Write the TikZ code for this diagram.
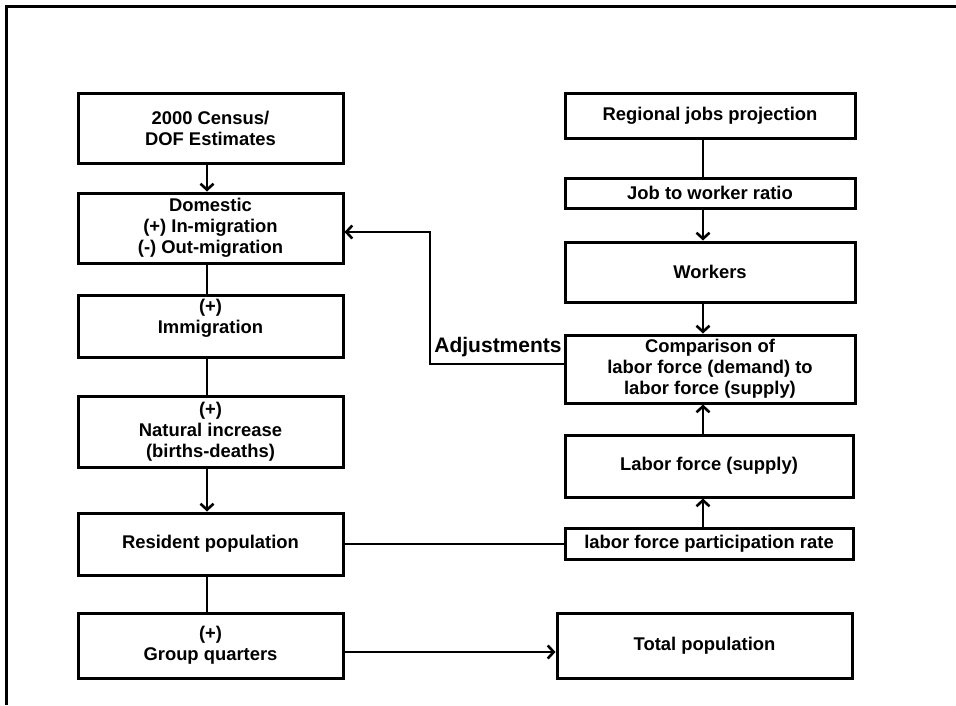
\documentclass[tikz,border=0pt]{standalone}
\usepackage{fontspec}
\setmainfont{Liberation Sans}
\usetikzlibrary{arrows.meta}
\begin{document}
\begin{tikzpicture}[x=1pt,y=-1pt,
  box/.style={draw, line width=3pt, align=center, inner sep=0pt,
    font=\bfseries\fontsize{18.4}{21}\selectfont},
  conn/.style={line width=2.6pt},
  arr/.style={line width=2.6pt, -{Straight Barb[length=6pt,width=13pt]}},
  frameline/.style={line width=2.2pt}]
\useasboundingbox (0,0) rectangle (956,705);
% frame
\coordinate (fa) at (6.5,705);
\coordinate (fb) at (6.5,6.5);
\coordinate (fc) at (956,6.5);
\draw[frameline] (fa) -- (fb) -- (fc);
% left column
\node[box, minimum width=265pt, minimum height=70pt] (census) at (210.5,128) {2000 Census/\\DOF Estimates};
\node[box, minimum width=265pt, minimum height=70pt] (domestic) at (210.5,228) {Domestic\\(+) In-migration\\(-) Out-migration};
\node[box, minimum width=265pt, minimum height=62pt] (immig) at (210.5,326) {(+)\\Immigration\rule[-20pt]{0pt}{20pt}};
\node[box, minimum width=265pt, minimum height=71pt] (natural) at (210.5,431.5) {(+)\\Natural increase\\(births-deaths)};
\node[box, minimum width=265pt, minimum height=62pt] (resident) at (210.5,544) {Resident population};
\node[box, minimum width=265pt, minimum height=65pt] (group) at (210.5,645.5) {(+)\\Group quarters};
% right column
\node[box, minimum width=290pt, minimum height=45pt] (regional) at (710,115.5) {Regional jobs projection};
\node[box, minimum width=290pt, minimum height=30pt] (jobratio) at (710,193) {Job to worker ratio};
\node[box, minimum width=290pt, minimum height=60pt] (workers) at (710,272) {Workers};
\node[box, minimum width=290pt, minimum height=68pt] (comp) at (710,369) {Comparison of\\labor force (demand) to\\labor force (supply)};
\node[box, minimum width=288pt, minimum height=62pt] (supply) at (709,466) {Labor force (supply)};
\node[box, minimum width=288pt, minimum height=31pt] (partic) at (709,544) {labor force participation rate};
\node[box, minimum width=295pt, minimum height=65pt] (total) at (704.5,645.5) {Total population};
% label
\node[anchor=base, inner sep=0pt, font=\bfseries\fontsize{21}{24}\selectfont] (adjlabel) at (498,352) {Adjustments};
% connector x positions
\coordinate (lx) at (207,0);
\coordinate (rx) at (703,0);
% left connectors
\draw[arr] (census.south -| lx) -- (domestic.north -| lx);
\draw[conn] (domestic.south -| lx) -- (immig.north -| lx);
\draw[conn] (immig.south -| lx) -- (natural.north -| lx);
\draw[arr] (natural.south -| lx) -- (resident.north -| lx);
\draw[conn] (resident.south -| lx) -- (group.north -| lx);
% right connectors
\draw[conn] (regional.south -| rx) -- (jobratio.north -| rx);
\draw[arr] (jobratio.south -| rx) -- (workers.north -| rx);
\draw[arr] (workers.south -| rx) -- (comp.north -| rx);
\draw[arr] (supply.north -| rx) -- (comp.south -| rx);
\draw[arr] (partic.north -| rx) -- (supply.south -| rx);
% cross connectors
\draw[conn] (resident.east) -- (partic.west);
\coordinate (gy) at (0,652);
\draw[arr] (group.east |- gy) -- (total.west |- gy);
\coordinate (a1) at (430,364);
\coordinate (a2) at (430,232);
\draw[arr] (comp.west |- a1) -- (a1) -- (a2) -- (domestic.east |- a2);
\end{tikzpicture}
\end{document}
